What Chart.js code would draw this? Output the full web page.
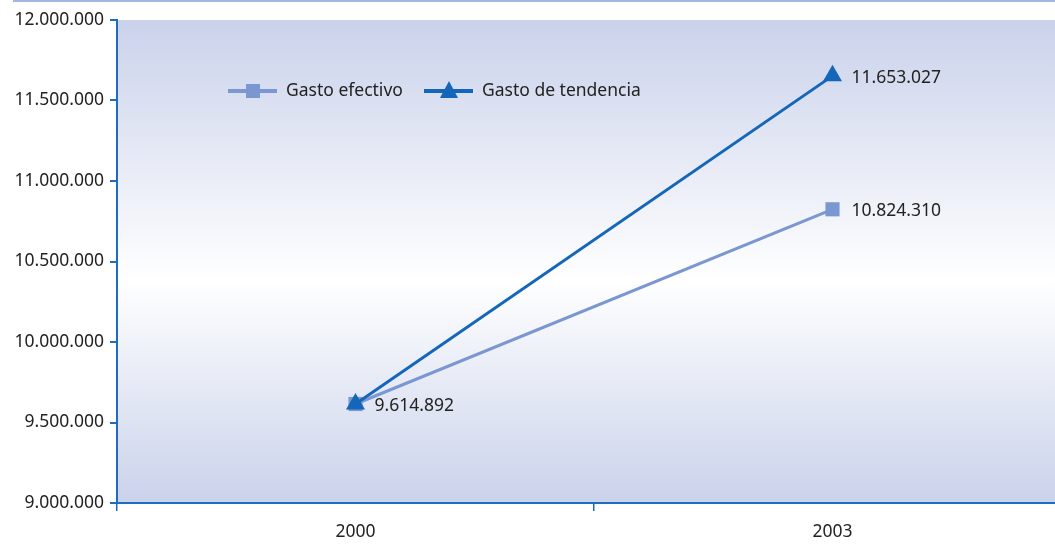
<!DOCTYPE html>
<html>
<head>
<meta charset="utf-8">
<script src="https://cdn.jsdelivr.net/npm/chart.js@4"></script>
<style>
  html, body { margin: 0; padding: 0; background: #ffffff; overflow: hidden; }
  #wrap { position: relative; width: 1082px; height: 546px; }
</style>
</head>
<body>
<div id="wrap"><canvas id="c" width="1082" height="546"></canvas></div>
<script>
// Years on the category axis
const categories = ['2000', '2003'];
// Actual spending and trend spending
const gastoEfectivo = [9614892, 10824310];
const gastoTendencia = [9614892, 11653027];
// Y axis range
const yMin = 9000000;
const yMax = 12000000;
const yStep = 500000;

const FONT = 'Noto Sans';
const FSIZE = 17.5;
const AXIS_BLUE = '#1e6dbd';
const LIGHT = '#7b97d1';
const DARK = '#1467b8';
const TEXT = '#222222';

function fmt(v) {
  return String(Math.round(v)).replace(/\B(?=(\d{3})+(?!\d))/g, '.');
}

// Plot area fill: blue at the edges fading to white in the middle
const backdrop = {
  id: 'backdrop',
  beforeDraw(chart) {
    const { ctx, chartArea: a } = chart;
    const g = ctx.createLinearGradient(0, a.top, 0, a.bottom);
    g.addColorStop(0, '#cad2eb');
    g.addColorStop(0.54, '#ffffff');
    g.addColorStop(1, '#cad2eb');
    ctx.save();
    ctx.fillStyle = g;
    ctx.fillRect(a.left, a.top, a.right - a.left, a.bottom - a.top);
    // thin rule along the top of the page
    ctx.fillStyle = '#a3b6e0';
    ctx.fillRect(13, 0, chart.width - 13, 2);
    ctx.restore();
  }
};

// Value labels to the right of selected points
const valueLabels = {
  id: 'valueLabels',
  afterDatasetsDraw(chart) {
    const { ctx } = chart;
    ctx.save();
    ctx.font = FSIZE + 'px "' + FONT + '"';
    ctx.fillStyle = TEXT;
    ctx.textAlign = 'left';
    ctx.textBaseline = 'middle';
    const show = [[0, 0], [0, 1], [1, 1]];
    show.forEach(([ds, i]) => {
      const el = chart.getDatasetMeta(ds).data[i];
      const v = chart.data.datasets[ds].data[i];
      ctx.fillText(fmt(v), el.x + 19, el.y + 2);
    });
    ctx.restore();
  }
};

// Legend drawn inside the plot area
const innerLegend = {
  id: 'innerLegend',
  afterDatasetsDraw(chart) {
    const { ctx } = chart;
    ctx.save();
    ctx.font = FSIZE + 'px "' + FONT + '"';
    ctx.textBaseline = 'middle';
    const y = 91;
    const items = [
      { x: 228, ds: 0 },
      { x: 424, ds: 1 }
    ];
    items.forEach(it => {
      const d = chart.data.datasets[it.ds];
      ctx.strokeStyle = d.borderColor;
      ctx.lineWidth = 4;
      ctx.beginPath();
      ctx.moveTo(it.x, y);
      ctx.lineTo(it.x + 49, y);
      ctx.stroke();
      ctx.fillStyle = d.pointBackgroundColor;
      const cx = it.x + 25;
      if (d.pointStyle === 'rect') {
        ctx.fillRect(cx - 7, y - 7, 14, 14);
      } else {
        ctx.beginPath();
        ctx.moveTo(cx, y - 10);
        ctx.lineTo(cx + 9, y + 7);
        ctx.lineTo(cx - 9, y + 7);
        ctx.closePath();
        ctx.fill();
      }
      ctx.fillStyle = TEXT;
      ctx.textAlign = 'left';
      ctx.fillText(d.label, it.x + 58, y);
    });
    ctx.restore();
  }
};

new Chart(document.getElementById('c'), {
  type: 'line',
  data: {
    labels: categories,
    datasets: [
      {
        label: 'Gasto efectivo',
        data: gastoEfectivo,
        order: 1,
        borderColor: LIGHT,
        backgroundColor: LIGHT,
        pointBackgroundColor: LIGHT,
        pointBorderColor: LIGHT,
        borderWidth: 3,
        pointStyle: 'rect',
        pointRadius: 10,
        pointBorderWidth: 0,
        tension: 0
      },
      {
        label: 'Gasto de tendencia',
        data: gastoTendencia,
        order: 0,
        borderColor: DARK,
        backgroundColor: DARK,
        pointBackgroundColor: DARK,
        pointBorderColor: DARK,
        borderWidth: 3,
        pointStyle: 'triangle',
        pointRadius: 11,
        pointBorderWidth: 0,
        tension: 0
      }
    ]
  },
  options: {
    responsive: false,
    animation: false,
    events: [],
    layout: { padding: { top: 20, right: 1, left: 0, bottom: 0 } },
    plugins: { legend: { display: false }, tooltip: { enabled: false } },
    scales: {
      x: {
        offset: true,
        grid: {
          offset: true,
          drawOnChartArea: false,
          drawTicks: true,
          tickLength: 8,
          color: AXIS_BLUE,
          lineWidth: 1.5
        },
        border: { color: AXIS_BLUE, width: 2 },
        ticks: {
          color: TEXT,
          font: { family: FONT, size: FSIZE },
          padding: 11
        },
        afterFit(s) { s.height = 43; }
      },
      y: {
        min: yMin,
        max: yMax,
        grid: {
          drawOnChartArea: false,
          drawTicks: true,
          tickLength: 7,
          color: AXIS_BLUE,
          lineWidth: 2
        },
        border: { color: AXIS_BLUE, width: 2 },
        ticks: {
          stepSize: yStep,
          color: TEXT,
          font: { family: FONT, size: FSIZE },
          padding: 6,
          callback: v => fmt(v)
        },
        afterFit(s) { s.width = 117; }
      }
    }
  },
  plugins: [backdrop, valueLabels, innerLegend]
});
</script>
</body>
</html>
